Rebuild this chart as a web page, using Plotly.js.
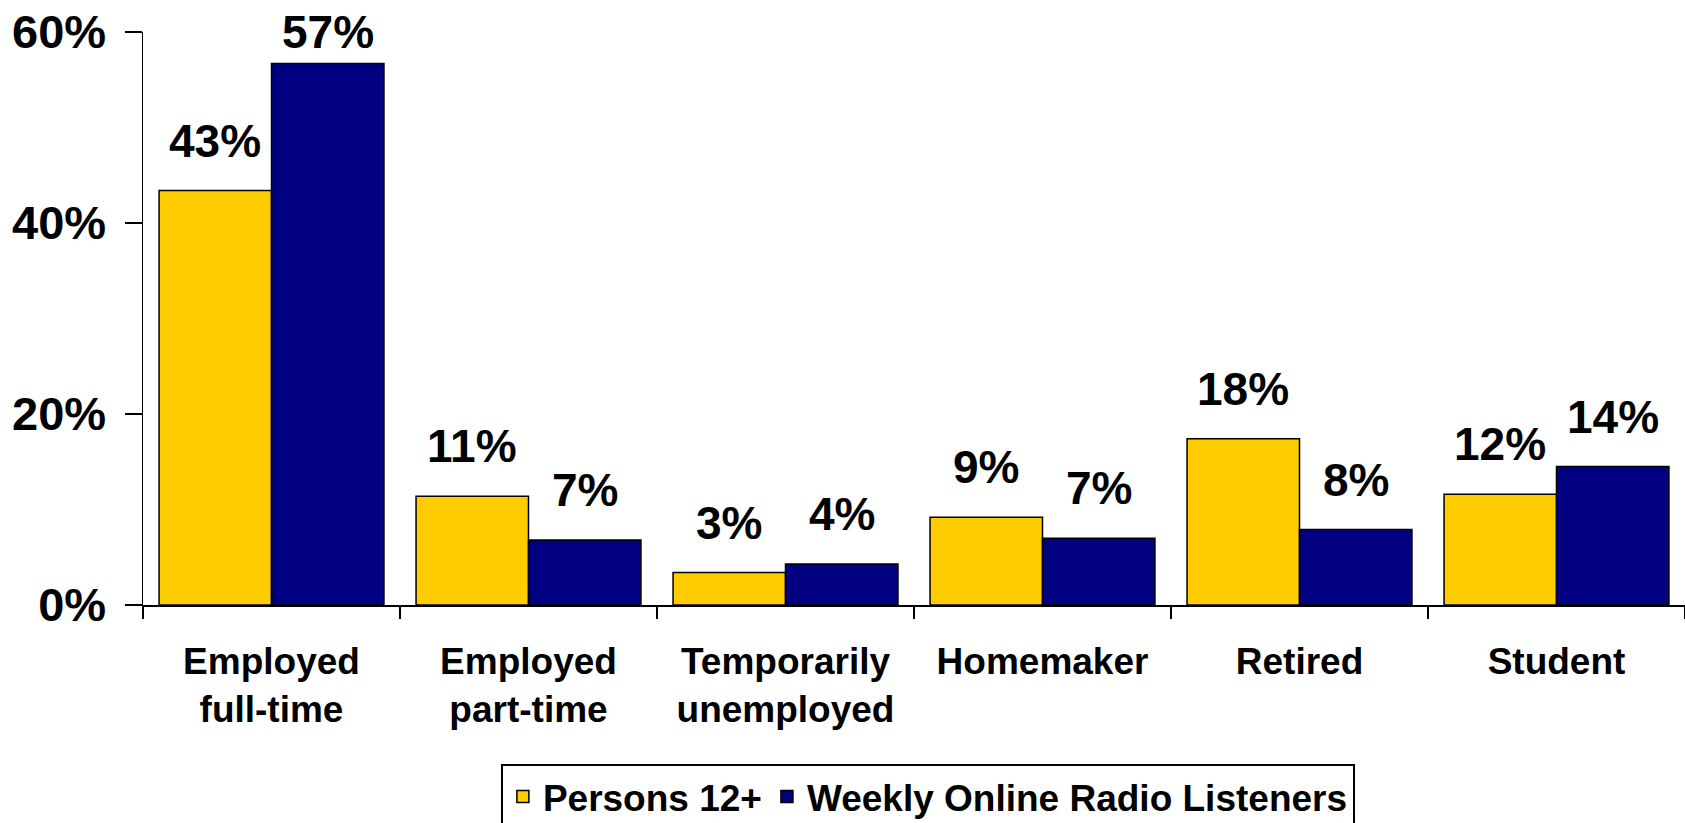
<!DOCTYPE html>
<html>
<head>
<meta charset="utf-8">
<script src="https://cdn.plot.ly/plotly-3.0.1.min.js"></script>
<style>
  html, body { margin: 0; padding: 0; background: #ffffff; }
  #chart { width: 1685px; height: 823px; }
</style>
</head>
<body>
<div id="chart"></div>
<script>
// ---- data ----
const categories = ["Employed<br>full-time", "Employed<br>part-time", "Temporarily<br>unemployed", "Homemaker", "Retired", "Student"];
const seriesNames = ["Persons 12+", "Weekly Online Radio Listeners"];
const persons12 = [43.4, 11.4, 3.4, 9.2, 17.4, 11.6];
const listeners = [56.7, 6.8, 4.3, 7.0, 7.9, 14.5];
const persons12Labels = ["43%", "11%", "3%", "9%", "18%", "12%"];
const listenersLabels = ["57%", "7%", "4%", "7%", "8%", "14%"];
const yTickVals = [0, 20, 40, 60];
const yTickText = ["0%", "20%", "40%", "60%"];

// ---- styling ----
const FONT = "'Liberation Sans', Arial, Helvetica, sans-serif";
const W = 1685, H = 823;
const M = { l: 143, r: 0, t: 32, b: 218, autoexpand: false };
const plotH = H - M.t - M.b;
const plotW = W - M.l - M.r;
const yMax = 60;
const catPx = plotW / categories.length;
const bargap = 0.125;
const barPx = catPx * (1 - bargap) / 2;

function labelAnnotations(values, labels, side) {
  return values.map((v, i) => {
    const barTop = M.t + plotH * (1 - v / yMax);
    let shift = 22;
    const minBottom = 60; // keep label inside the page near the top
    if (barTop - shift < minBottom) shift = barTop - minBottom;
    return {
      x: categories[i], y: v, xref: "x", yref: "y",
      xshift: side * barPx / 2,
      yshift: shift,
      yanchor: "bottom", xanchor: "center",
      text: labels[i], showarrow: false,
      font: { family: FONT, size: 46, color: "#000000", weight: "bold" }
    };
  });
}

const traces = [
  {
    type: "bar", name: seriesNames[0], x: categories, y: persons12,
    marker: { color: "#FFCC00", line: { color: "#000000", width: 1.5 } },
    hoverinfo: "skip"
  },
  {
    type: "bar", name: seriesNames[1], x: categories, y: listeners,
    marker: { color: "#000080", line: { color: "#000000", width: 1.5 } },
    hoverinfo: "skip"
  }
];

const layout = {
  width: W, height: H,
  margin: M,
  paper_bgcolor: "#ffffff", plot_bgcolor: "#ffffff",
  barmode: "group", bargap: bargap, bargroupgap: 0,
  font: { family: FONT, color: "#000000" },
  xaxis: {
    type: "category",
    showline: true, linecolor: "#000000", linewidth: 1.5,
    ticks: "outside", tickson: "boundaries", ticklen: 12, tickwidth: 1.5, tickcolor: "#000000",
    showgrid: false, zeroline: false,
    tickfont: { family: FONT, size: 37, color: "#000000", weight: "bold" },
    ticklabelstandoff: 23,
    automargin: false,
    fixedrange: true
  },
  yaxis: {
    range: [0, yMax],
    tickvals: yTickVals, ticktext: yTickText,
    showline: true, linecolor: "#000000", linewidth: 1.5,
    ticks: "outside", ticklen: 17, tickwidth: 1.5, tickcolor: "#000000",
    showgrid: false, zeroline: false,
    tickfont: { family: FONT, size: 47, color: "#000000", weight: "bold" },
    ticklabelstandoff: 9,
    automargin: false,
    fixedrange: true
  },
  showlegend: true,
  legend: {
    orientation: "h",
    x: 0.509, xanchor: "center",
    y: -(764 - (M.t + plotH)) / plotH, yanchor: "top",
    bgcolor: "#ffffff", bordercolor: "#000000", borderwidth: 2,
    font: { family: FONT, size: 37, color: "#000000", weight: "bold" },
    itemwidth: 30, tracegroupgap: 0
  },
  annotations: [
    ...labelAnnotations(persons12, persons12Labels, -1),
    ...labelAnnotations(listeners, listenersLabels, 1)
  ]
};

Plotly.newPlot("chart", traces, layout, { displayModeBar: false, staticPlot: true });
</script>
</body>
</html>
